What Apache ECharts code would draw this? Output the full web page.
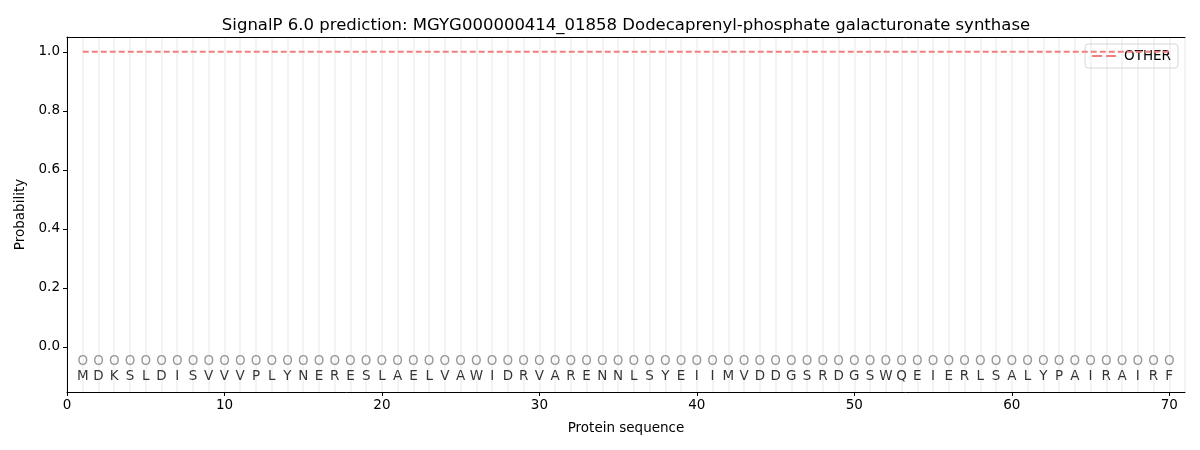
<!DOCTYPE html>
<html><head><meta charset="utf-8">
<script src="https://cdn.jsdelivr.net/npm/echarts@6/dist/echarts.min.js"></script>
<style>html,body{margin:0;padding:0;background:#fff}#c{width:1200px;height:450px}</style>
</head><body><div id="c"></div>
<script>
const sequence = ["M","D","K","S","L","D","I","S","V","V","V","P","L","Y","N","E","R","E","S","L","A","E","L","V","A","W","I","D","R","V","A","R","E","N","N","L","S","Y","E","I","I","M","V","D","D","G","S","R","D","G","S","W","Q","E","I","E","R","L","S","A","L","Y","P","A","I","R","A","I","R","F"];
const predLabels = sequence.map(() => "O");
const otherProb = sequence.map(() => 1.0);
const xTicks = [0,10,20,30,40,50,60,70];
const yTicks = [0.0,0.2,0.4,0.6,0.8,1.0];
const FONT = "DejaVu Sans";

const positions = sequence.map((_, i) => i + 1);
const chart = echarts.init(document.getElementById('c'));
chart.setOption({
  animation: false,
  textStyle: {fontFamily: FONT},
  title: {text: "SignalP 6.0 prediction: MGYG000000414_01858 Dodecaprenyl-phosphate galacturonate synthase",
    left: 621, textAlign: 'center', top: 12, textStyle: {fontFamily: FONT, fontSize: 16.5, fontWeight: 'normal', color: '#000'}},
  legend: {right: 22, top: 44, itemWidth: 30, itemHeight: 2, itemGap: 8, padding: [5, 7, 5, 7],
    borderColor: '#d6d6d6', borderWidth: 1, borderRadius: 3,
    textStyle: {fontFamily: FONT, fontSize: 13.5, color: '#000'},
    data: [{name: 'OTHER', icon: 'path://M0,0 L10,0 L10,2 L0,2 Z M14,0 L24,0 L24,2 L14,2 Z'}]},
  grid: {left: 67, right: 15, top: 37, bottom: 58},
  xAxis: [{
    type: 'value', min: 0, max: 71, interval: 10,
    name: 'Protein sequence', nameLocation: 'middle', nameGap: 29,
    nameTextStyle: {fontFamily: FONT, fontSize: 13.5, color: '#000'},
    axisLine: {show: true, onZero: false, lineStyle: {color: '#000'}},
    axisTick: {show: true, length: 4, lineStyle: {color: '#000'}, customValues: xTicks},
    axisLabel: {color: '#000', fontSize: 13.5, fontFamily: FONT, customValues: xTicks, margin: 6},
    splitLine: {show: false}
  }, {
    type: 'value', min: 0, max: 71, interval: 1, position: 'top',
    axisLine: {show: true, onZero: false, lineStyle: {color: '#000'}},
    axisTick: {show: false}, axisLabel: {show: false},
    splitLine: {show: true, lineStyle: {color: '#f3f3f3', width: 2}}
  }],
  yAxis: {
    type: 'value', min: -0.153, max: 1.05,
    name: 'Probability', nameLocation: 'middle', nameGap: 39,
    nameTextStyle: {fontFamily: FONT, fontSize: 13.5, color: '#000'},
    axisLine: {show: true, onZero: false, lineStyle: {color: '#000'}},
    axisTick: {show: true, length: 4, lineStyle: {color: '#000'}, customValues: yTicks},
    axisLabel: {color: '#000', fontSize: 13.5, fontFamily: FONT, customValues: yTicks,
      formatter: v => v.toFixed(1), margin: 7},
    splitLine: {show: false}
  },
  series: [
    {name: 'OTHER', type: 'line', showSymbol: false, symbol: 'none',
      data: positions.map((x, i) => [x, otherProb[i]]),
      lineStyle: {color: '#f08080', width: 2, type: [6, 3]}, itemStyle: {color: '#f08080'}, z: 5},
    {name: 'pred', type: 'scatter', symbolSize: 0, silent: true,
      data: positions.map((x, i) => [x, -0.05, predLabels[i]]),
      label: {show: true, position: 'inside', formatter: p => p.data[2], color: '#808080', fontSize: 13.5, fontFamily: FONT}},
    {name: 'seq', type: 'scatter', symbolSize: 0, silent: true,
      data: positions.map((x, i) => [x, -0.1, sequence[i]]),
      label: {show: true, position: 'inside', formatter: p => p.data[2], color: '#000', fontSize: 13.5, fontFamily: FONT}}
  ],
  graphic: [{type: 'rect', shape: {x: 1185, y: 37, width: 0, height: 355}, style: {stroke: '#000', lineWidth: 1, fill: null}}]
});
</script></body></html>
